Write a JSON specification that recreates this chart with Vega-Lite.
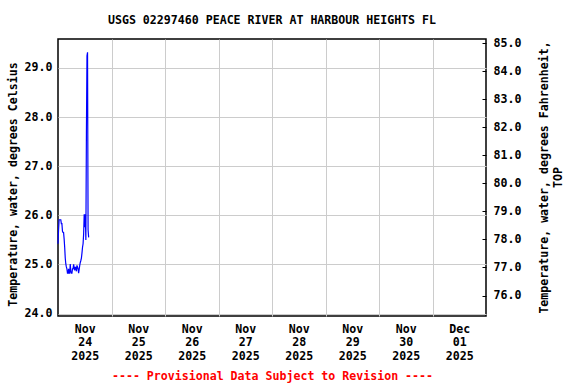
{
  "$schema": "https://vega.github.io/schema/vega-lite/v6.json",
  "width": 428,
  "height": 277,
  "autosize": "none",
  "padding": {"left": 58, "top": 39, "right": 90, "bottom": 68},
  "background": "white",
  "config": {
    "font": "DejaVu Sans Mono",
    "view": {"stroke": "black", "strokeWidth": 1.5},
    "axis": {
      "labelFont": "DejaVu Sans Mono",
      "labelFontWeight": "bold",
      "labelFontSize": 11.6,
      "labelColor": "black",
      "titleFont": "DejaVu Sans Mono",
      "titleFontWeight": "bold",
      "titleFontSize": 11.6,
      "titleColor": "black",
      "gridColor": "#cccccc",
      "gridOpacity": 1,
      "gridWidth": 1,
      "domain": false
    }
  },
  "title": {
    "text": "USGS 02297460 PEACE RIVER AT HARBOUR HEIGHTS FL",
    "font": "DejaVu Sans Mono",
    "fontWeight": "bold",
    "fontSize": 11.6,
    "color": "black",
    "anchor": "middle",
    "offset": 11
  },
  "layer": [
    {
      "data": {"values": [
        {"t": "2025-11-24T00:00", "c": 25.42},
        {"t": "2025-11-24T00:15", "c": 25.70},
        {"t": "2025-11-24T00:30", "c": 25.91},
        {"t": "2025-11-24T00:45", "c": 25.91},
        {"t": "2025-11-24T01:00", "c": 25.91},
        {"t": "2025-11-24T01:15", "c": 25.91},
        {"t": "2025-11-24T01:30", "c": 25.83},
        {"t": "2025-11-24T01:45", "c": 25.83},
        {"t": "2025-11-24T02:00", "c": 25.68},
        {"t": "2025-11-24T02:15", "c": 25.65},
        {"t": "2025-11-24T02:30", "c": 25.65},
        {"t": "2025-11-24T02:45", "c": 25.52},
        {"t": "2025-11-24T03:00", "c": 25.35},
        {"t": "2025-11-24T03:15", "c": 25.13},
        {"t": "2025-11-24T03:30", "c": 25.01},
        {"t": "2025-11-24T03:45", "c": 24.95},
        {"t": "2025-11-24T04:00", "c": 24.91},
        {"t": "2025-11-24T04:15", "c": 24.82},
        {"t": "2025-11-24T04:30", "c": 24.82},
        {"t": "2025-11-24T04:45", "c": 24.91},
        {"t": "2025-11-24T05:00", "c": 24.82},
        {"t": "2025-11-24T05:15", "c": 24.82},
        {"t": "2025-11-24T05:30", "c": 25.01},
        {"t": "2025-11-24T05:45", "c": 24.86},
        {"t": "2025-11-24T06:00", "c": 24.82},
        {"t": "2025-11-24T06:15", "c": 24.82},
        {"t": "2025-11-24T06:30", "c": 24.91},
        {"t": "2025-11-24T06:45", "c": 24.91},
        {"t": "2025-11-24T07:00", "c": 25.00},
        {"t": "2025-11-24T07:15", "c": 24.94},
        {"t": "2025-11-24T07:30", "c": 24.88},
        {"t": "2025-11-24T07:45", "c": 24.94},
        {"t": "2025-11-24T08:00", "c": 24.94},
        {"t": "2025-11-24T08:15", "c": 24.86},
        {"t": "2025-11-24T08:30", "c": 24.98},
        {"t": "2025-11-24T08:45", "c": 24.95},
        {"t": "2025-11-24T09:00", "c": 24.91},
        {"t": "2025-11-24T09:15", "c": 24.82},
        {"t": "2025-11-24T09:30", "c": 24.90},
        {"t": "2025-11-24T09:45", "c": 24.98},
        {"t": "2025-11-24T10:00", "c": 25.04},
        {"t": "2025-11-24T10:15", "c": 25.08},
        {"t": "2025-11-24T10:30", "c": 25.13},
        {"t": "2025-11-24T10:45", "c": 25.23},
        {"t": "2025-11-24T11:00", "c": 25.35},
        {"t": "2025-11-24T11:15", "c": 25.42},
        {"t": "2025-11-24T11:30", "c": 25.62},
        {"t": "2025-11-24T11:45", "c": 26.02},
        {"t": "2025-11-24T12:00", "c": 25.76},
        {"t": "2025-11-24T12:15", "c": 26.02},
        {"t": "2025-11-24T12:30", "c": 25.50},
        {"t": "2025-11-24T12:45", "c": 27.70},
        {"t": "2025-11-24T13:00", "c": 29.25},
        {"t": "2025-11-24T13:15", "c": 29.32},
        {"t": "2025-11-24T13:30", "c": 25.70},
        {"t": "2025-11-24T13:45", "c": 25.55}
      ]},
      "mark": {"type": "line", "color": "#0000ff", "strokeWidth": 1.2, "interpolate": "linear"},
      "encoding": {
        "x": {
          "field": "t", "type": "temporal",
          "scale": {"domain": [
            {"year": 2025, "month": 11, "date": 24},
            {"year": 2025, "month": 12, "date": 2}
          ]},
          "axis": {
            "orient": "bottom",
            "values": [
              {"year": 2025, "month": 11, "date": 25},
              {"year": 2025, "month": 11, "date": 26},
              {"year": 2025, "month": 11, "date": 27},
              {"year": 2025, "month": 11, "date": 28},
              {"year": 2025, "month": 11, "date": 29},
              {"year": 2025, "month": 11, "date": 30},
              {"year": 2025, "month": 12, "date": 1}
            ],
            "grid": true, "labels": false, "ticks": false, "title": null
          }
        },
        "y": {
          "field": "c", "type": "quantitative",
          "scale": {"domain": [23.95, 29.59], "nice": false, "zero": false},
          "axis": {
            "orient": "left",
            "values": [24, 25, 26, 27, 28, 29],
            "format": ".1f",
            "grid": true,
            "ticks": false,
            "labelPadding": 6,
            "title": "Temperature, water, degrees Celsius",
            "titleAngle": -90,
            "titleAlign": "center",
            "titleBaseline": "middle",
            "titleX": -45,
            "titleY": 145
          }
        }
      }
    },
    {
      "data": {"values": [
        {"t": "2025-11-24T00:00", "f": 80}
      ]},
      "mark": {"type": "point", "opacity": 0},
      "encoding": {
        "x": {
          "field": "t", "type": "temporal",
          "axis": {
            "orient": "bottom",
            "values": [
              {"year": 2025, "month": 11, "date": 24, "hours": 12},
              {"year": 2025, "month": 11, "date": 25, "hours": 12},
              {"year": 2025, "month": 11, "date": 26, "hours": 12},
              {"year": 2025, "month": 11, "date": 27, "hours": 12},
              {"year": 2025, "month": 11, "date": 28, "hours": 12},
              {"year": 2025, "month": 11, "date": 29, "hours": 12},
              {"year": 2025, "month": 11, "date": 30, "hours": 12},
              {"year": 2025, "month": 12, "date": 1, "hours": 12}
            ],
            "labelExpr": "[timeFormat(datum.value, '%b'), timeFormat(datum.value, '%d'), timeFormat(datum.value, '%Y')]",
            "labelLineHeight": 13.5,
            "labelPadding": 7,
            "labelBaseline": "top",
            "grid": false,
            "ticks": false,
            "title": "---- Provisional Data Subject to Revision ----",
            "titleColor": "#ff0000",
            "titleBaseline": "middle",
            "titleY": 60
          }
        },
        "y": {
          "field": "f", "type": "quantitative",
          "scale": {"domain": [75.27, 85.15], "nice": false, "zero": false},
          "axis": {
            "orient": "right",
            "values": [76, 77, 78, 79, 80, 81, 82, 83, 84, 85],
            "format": ".1f",
            "grid": false,
            "ticks": true,
            "tickSize": -4,
            "tickColor": "black",
            "labelPadding": 11,
            "title": ["Temperature, water, degrees Fahrenheit,", "TOP"],
            "titleAngle": -90,
            "titleAlign": "center",
            "titleBaseline": "middle",
            "titleLineHeight": 14,
            "titleX": 58,
            "titleY": 138
          }
        }
      }
    }
  ],
  "resolve": {"scale": {"y": "independent"}, "axis": {"x": "independent", "y": "independent"}}
}
